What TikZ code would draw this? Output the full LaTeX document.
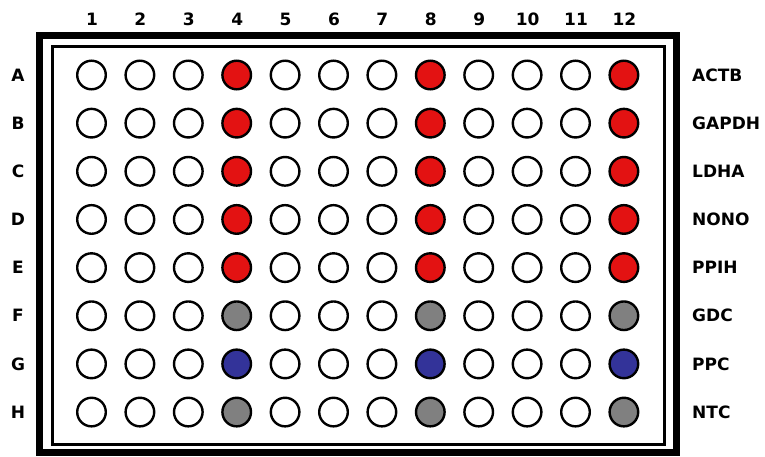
\documentclass[tikz,border=0pt]{standalone}
\usepackage{fontspec}
\setmainfont{DejaVu Sans}
\begin{document}
\begin{tikzpicture}[x=1pt,y=-1pt,
  well/.style={circle,draw=black,line width=2.4pt,minimum size=28.6pt,inner sep=0pt},
  empty/.style={well,fill=white},
  hit/.style={well,fill=wellred},
  gdc/.style={well,fill=wellgray},
  ppc/.style={well,fill=wellblue},
  lab/.style={font=\bfseries\fontsize{17}{17}\selectfont,inner sep=0pt},
  glab/.style={lab,anchor=west}]
\definecolor{wellred}{HTML}{E31212}
\definecolor{wellgray}{HTML}{808080}
\definecolor{wellblue}{HTML}{333399}
\useasboundingbox (0,0) rectangle (765,456);
\draw[line width=7pt] (39.5,35.5) rectangle (676.5,452.5);
\draw[line width=3pt] (52,46.5) rectangle (664.5,444.5);
\foreach \c in {1,...,12}{
  \node[lab] (col\c) at ({92+48.4*(\c-1)},19) {\c};
}
\foreach \r/\G [count=\j] in {A/ACTB,B/GAPDH,C/LDHA,D/NONO,E/PPIH,F/GDC,G/PPC,H/NTC}{
  \node[lab] (row\r) at (18,{75+48.15*(\j-1)}) {\r};
  \node[glab] (gene\r) at (692,{75+48.15*(\j-1)}) {\G};
  \foreach \c in {1,...,12}{
    \pgfmathtruncatemacro{\sel}{(\c==4||\c==8||\c==12) ? (\j<6 ? 1 : (\j==7 ? 3 : 2)) : 0}
    \ifcase\sel
      \node[empty] (w\r\c) at ({91.5+48.4*(\c-1)},{75+48.15*(\j-1)}) {};
    \or
      \node[hit] (w\r\c) at ({91.5+48.4*(\c-1)},{75+48.15*(\j-1)}) {};
    \or
      \node[gdc] (w\r\c) at ({91.5+48.4*(\c-1)},{75+48.15*(\j-1)}) {};
    \or
      \node[ppc] (w\r\c) at ({91.5+48.4*(\c-1)},{75+48.15*(\j-1)}) {};
    \fi
  }
}
\end{tikzpicture}
\end{document}
